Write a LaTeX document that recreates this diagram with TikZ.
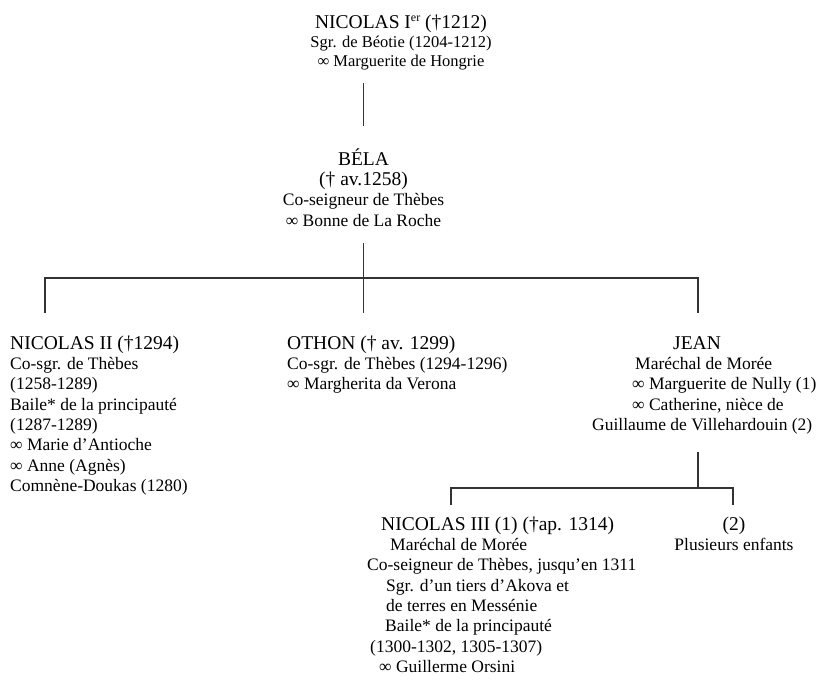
\documentclass[tikz,border=0pt]{standalone}
\usepackage{fontspec}
\setmainfont{Liberation Serif}
\newcommand{\hd}[1]{{\fontsize{19.5bp}{20.3bp}\selectfont #1}}
\newcommand{\tp}{\rule{0pt}{18bp}}
\newcommand{\sups}[1]{\raisebox{0.75ex}{\fontsize{12bp}{12bp}\selectfont #1}}
\begin{document}
\begin{tikzpicture}[x=1bp,y=-1bp,
    every node/.style={inner sep=0pt,font=\fontsize{17.5bp}{20.3bp}\selectfont},
    gen/.style={align=center,anchor=north},
    genl/.style={align=left,anchor=north west},
    link/.style={line width=1.3bp,black!80}]
  \useasboundingbox (0,0) rectangle (821,681);
  % first and second generation
  \node[gen,font=\fontsize{16.5bp}{19.2bp}\selectfont] (nic1) at (401,10) {\tp\hd{NICOLAS I\sups{er} (†1212)}\\Sgr. de Béotie (1204-1212)\\∞ Marguerite de Hongrie};
  \node[gen] (bela) at (363.5,147) {\tp\hd{BÉLA}\\\hd{(† av.1258)}\\Co-seigneur de Thèbes\\∞ Bonne de La Roche};
  % children of Bela
  \node[genl] (nic2) at (10,331) {\tp\hd{NICOLAS II (†1294)}\\Co-sgr. de Thèbes\\(1258-1289)\\Baile* de la principauté\\(1287-1289)\\∞ Marie d’Antioche\\∞ Anne (Agnès)\\Comnène-Doukas (1280)};
  \node[genl] (othon) at (287,331) {\tp\hd{OTHON († av. 1299)}\\Co-sgr. de Thèbes (1294-1296)\\∞ Margherita da Verona};
  \node[genl] (jean) at (592,331) {\tp\hspace*{81bp}\hd{JEAN}\\\hspace*{43bp}Maréchal de Morée\\\hspace*{40bp}∞ Marguerite de Nully (1)\\\hspace*{40bp}∞ Catherine, nièce de\\Guillaume de Villehardouin (2)};
  % children of Jean
  \node[genl] (nic3) at (367,512) {\tp\hspace*{14bp}\hd{NICOLAS III (1) (†ap. 1314)}\\\hspace*{23bp}Maréchal de Morée\\Co-seigneur de Thèbes, jusqu’en 1311\\\hspace*{19bp}Sgr. d’un tiers d’Akova et\\\hspace*{19bp}de terres en Messénie\\\hspace*{18bp}Baile* de la principauté\\\hspace*{3bp}(1300-1302, 1305-1307)\\\hspace*{12bp}∞ Guillerme Orsini};
  \node[gen] (enf) at (734,512) {\tp\hd{(2)}\\Plusieurs enfants};
  % connectors
  \coordinate (k1) at (45,313);
  \coordinate (k2) at (363.5,313);
  \coordinate (k3) at (698,313);
  \coordinate (k4) at (451,505);
  \coordinate (k5) at (733,505);
  \draw[link] ([yshift=-12.7bp]nic1.south -| bela.north) -- ([yshift=21bp]bela.north);
  \draw[link] ([yshift=-17bp]bela.south) -- (k2);
  \draw[link] (k1) -- ++(0,-35) -| (k3);
  \draw[link] ([yshift=-18bp]jean.south -| k3) -- ++(0,35);
  \draw[link] (k4) -- ++(0,-17) -| (k5);
\end{tikzpicture}
\end{document}
